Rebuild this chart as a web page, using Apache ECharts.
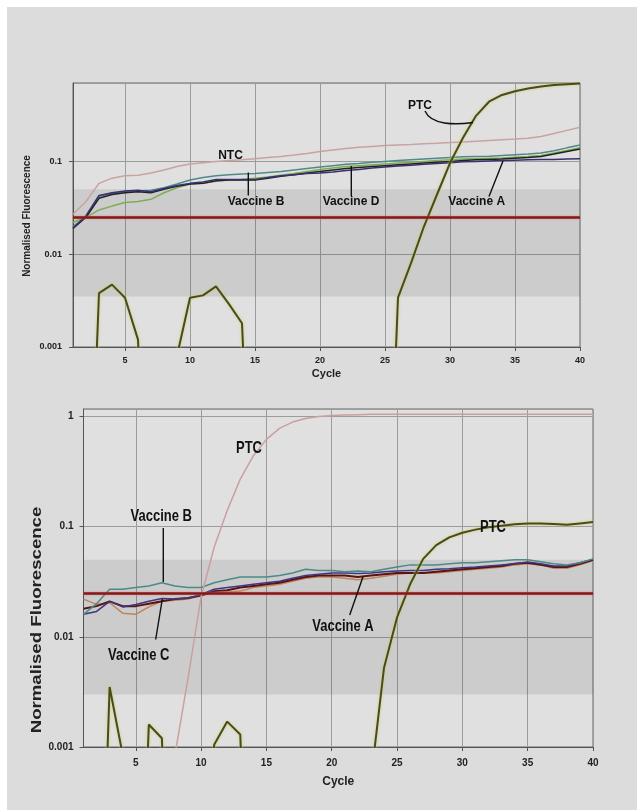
<!DOCTYPE html>
<html>
<head>
<meta charset="utf-8">
<script src="https://cdn.jsdelivr.net/npm/echarts@6/dist/echarts.min.js"></script>
<style>
html,body{margin:0;padding:0;background:#ffffff;}
#chart{width:637px;height:810px;}
</style>
</head>
<body>
<div id="chart"></div>
<script>
// ---------- data ----------
var cycles = [];
for (var c = 1; c <= 40; c++) cycles.push(c);
var xTicks = [5, 10, 15, 20, 25, 30, 35, 40];
var topYLabels = {'-3': '0.001', '-2': '0.01', '-1': '0.1'};
var botYLabels = {'-3': '0.001', '-2': '0.01', '-1': '0.1', '0': '1'};
var threshold = 0.025;
var topBand = [0.0035, 0.05];
var botBand = [0.003, 0.05];
var LOW = 1e-6; // below the visible axis range

// top panel
var topPTC = [LOW, LOW, 0.0038, 0.0047, 0.0034, 0.0012, LOW, LOW, 0.0008, 0.0034,
  0.0036, 0.0045, 0.0029, 0.0018, LOW, LOW, LOW, LOW, LOW, LOW,
  LOW, LOW, LOW, LOW, LOW, 0.0034, 0.008, 0.02, 0.044, 0.096,
  0.18, 0.31, 0.44, 0.52, 0.57, 0.61, 0.64, 0.665, 0.68, 0.69];
var topNTC = [0.027, 0.037, 0.058, 0.066, 0.07, 0.071, 0.075, 0.081, 0.088, 0.094,
  0.097, 0.1, 0.102, 0.104, 0.107, 0.11, 0.113, 0.117, 0.122, 0.128,
  0.133, 0.138, 0.142, 0.145, 0.148, 0.15, 0.152, 0.155, 0.157, 0.16,
  0.162, 0.165, 0.168, 0.171, 0.174, 0.178, 0.186, 0.2, 0.216, 0.233];
var topVB = [0.02, 0.025, 0.042, 0.045, 0.047, 0.048, 0.049, 0.052, 0.057, 0.063,
  0.067, 0.07, 0.072, 0.073, 0.074, 0.076, 0.078, 0.081, 0.084, 0.087,
  0.09, 0.093, 0.095, 0.098, 0.1, 0.102, 0.104, 0.106, 0.108, 0.11,
  0.112, 0.113, 0.114, 0.116, 0.118, 0.12, 0.123, 0.13, 0.14, 0.15];
var topVD = [0.022, 0.025, 0.03, 0.033, 0.036, 0.037, 0.039, 0.046, 0.052, 0.057,
  0.058, 0.061, 0.063, 0.064, 0.066, 0.068, 0.071, 0.074, 0.078, 0.082,
  0.085, 0.088, 0.09, 0.092, 0.094, 0.096, 0.098, 0.1, 0.102, 0.104,
  0.106, 0.107, 0.108, 0.109, 0.111, 0.113, 0.116, 0.123, 0.131, 0.14];
var topVC = [0.019, 0.025, 0.04, 0.044, 0.046, 0.047, 0.046, 0.05, 0.054, 0.057,
  0.058, 0.062, 0.063, 0.063, 0.063, 0.066, 0.069, 0.072, 0.075, 0.078,
  0.081, 0.084, 0.086, 0.088, 0.09, 0.092, 0.094, 0.096, 0.098, 0.1,
  0.102, 0.104, 0.105, 0.106, 0.108, 0.11, 0.113, 0.12, 0.128, 0.136];
var topVA = [0.019, 0.026, 0.043, 0.046, 0.048, 0.049, 0.047, 0.051, 0.055, 0.058,
  0.06, 0.064, 0.064, 0.064, 0.064, 0.067, 0.07, 0.072, 0.074, 0.075,
  0.077, 0.08, 0.082, 0.085, 0.087, 0.089, 0.091, 0.093, 0.095, 0.097,
  0.099, 0.1, 0.101, 0.102, 0.103, 0.104, 0.105, 0.105, 0.106, 0.107];

// bottom panel
var botPTC1 = [LOW, LOW, LOW, LOW, LOW, LOW, LOW, 0.00085, 0.0042, 0.023,
  0.065, 0.14, 0.27, 0.44, 0.62, 0.78, 0.89, 0.96, 1.0, 1.02,
  1.03, 1.04, 1.05, 1.05, 1.05, 1.05, 1.05, 1.05, 1.05, 1.05,
  1.05, 1.05, 1.05, 1.05, 1.05, 1.05, 1.05, 1.05, 1.05, 1.05];
var botPTC2 = [LOW, LOW, 0.0035, 0.00085, LOW, 0.0016, 0.0012, LOW, LOW, LOW,
  0.00105, 0.0017, 0.0013, LOW, LOW, LOW, LOW, LOW, LOW, LOW,
  LOW, LOW, 0.0005, 0.0052, 0.015, 0.03, 0.051, 0.068, 0.08, 0.088,
  0.094, 0.099, 0.102, 0.105, 0.107, 0.107, 0.106, 0.104, 0.107, 0.11];
var botVB = [0.016, 0.02, 0.027, 0.027, 0.028, 0.029, 0.031, 0.029, 0.028, 0.028,
  0.031, 0.033, 0.035, 0.035, 0.035, 0.036, 0.038, 0.041, 0.04, 0.04,
  0.039, 0.0395, 0.039, 0.041, 0.043, 0.045, 0.045, 0.045, 0.046, 0.047,
  0.047, 0.048, 0.049, 0.05, 0.05, 0.048, 0.046, 0.045, 0.047, 0.051];
var botVC = [0.016, 0.017, 0.021, 0.0187, 0.0197, 0.021, 0.0223, 0.022, 0.0224, 0.0242,
  0.027, 0.028, 0.029, 0.03, 0.031, 0.032, 0.034, 0.036, 0.037, 0.038,
  0.038, 0.0376, 0.038, 0.039, 0.0395, 0.04, 0.04, 0.041, 0.0415, 0.0424,
  0.043, 0.044, 0.045, 0.046, 0.0477, 0.046, 0.044, 0.0439, 0.047, 0.0505];
var botVA = [0.022, 0.0197, 0.0204, 0.0164, 0.016, 0.0187, 0.021, 0.0215, 0.022, 0.024,
  0.025, 0.0255, 0.026, 0.028, 0.029, 0.03, 0.032, 0.034, 0.035, 0.035,
  0.034, 0.033, 0.034, 0.0355, 0.037, 0.038, 0.038, 0.038, 0.039, 0.04,
  0.041, 0.042, 0.043, 0.045, 0.046, 0.045, 0.042, 0.042, 0.045, 0.049];
var botVX = [0.018, 0.019, 0.021, 0.019, 0.019, 0.02, 0.021, 0.022, 0.0225, 0.0237,
  0.026, 0.0265, 0.028, 0.029, 0.03, 0.031, 0.033, 0.035, 0.036, 0.036,
  0.036, 0.035, 0.036, 0.037, 0.038, 0.038, 0.038, 0.039, 0.04, 0.041,
  0.042, 0.043, 0.044, 0.046, 0.047, 0.045, 0.043, 0.043, 0.046, 0.05];

// ---------- chart ----------
function pairs(arr) { return cycles.map(function (c, i) { return [c, arr[i]]; }); }
var FONT = 'Liberation Sans, Arial, sans-serif';

function logLabel(map) {
  return function (v) {
    var e = Math.log10(v);
    var r = Math.round(e);
    if (Math.abs(e - r) < 1e-6 && map[String(r)] !== undefined) return map[String(r)];
    return '';
  };
}

function xAxisCfg(idx, fs, nameFs, nameGap, margin) {
  return {
    type: 'value', gridIndex: idx, min: 1, max: 40,
    name: 'Cycle', nameLocation: 'middle', nameGap: nameGap,
    nameTextStyle: {fontFamily: FONT, fontSize: nameFs, fontWeight: 'bold', color: '#222'},
    axisLine: {show: true, lineStyle: {color: '#555', width: 1}},
    axisTick: {show: true, customValues: xTicks, length: 4, lineStyle: {color: '#555'}},
    axisLabel: {customValues: xTicks, fontFamily: FONT, fontSize: fs, fontWeight: 'bold', color: '#222', margin: margin},
    splitLine: {show: true, lineStyle: {color: '#9c9c9c', width: 1}}
  };
}
function yAxisCfg(idx, max, map, fs, margin) {
  return {
    type: 'log', logBase: 10, gridIndex: idx, min: 0.001, max: max,
    axisLine: {show: true, lineStyle: {color: '#555', width: 1}},
    axisTick: {show: true, length: 4, lineStyle: {color: '#555'}},
    axisLabel: {formatter: logLabel(map), fontFamily: FONT, fontSize: fs, fontWeight: 'bold', color: '#222', margin: margin, showMaxLabel: false},
    splitLine: {show: true, lineStyle: {color: '#9c9c9c', width: 1}}
  };
}
function lineSeries(name, xi, arr, color, width, halo) {
  var s = {
    name: name, type: 'line', xAxisIndex: xi, yAxisIndex: xi,
    data: pairs(arr), showSymbol: false, symbol: 'none', clip: true, silent: true,
    lineStyle: {color: color, width: width},
    z: 3
  };
  if (halo) { s.lineStyle.shadowColor = halo; s.lineStyle.shadowBlur = 3; }
  return s;
}
function refSeries(xi, band) {
  return {
    type: 'line', xAxisIndex: xi, yAxisIndex: xi, data: [], silent: true, z: 2,
    markArea: {silent: true, itemStyle: {color: 'rgba(0,0,0,0.085)'},
      data: [[{yAxis: band[0]}, {yAxis: band[1]}]]},
    markLine: {silent: true, symbol: 'none', precision: 6, label: {show: false},
      lineStyle: {color: '#861818', width: 2.5, type: 'solid', shadowColor: 'rgba(220,120,120,0.9)', shadowBlur: 2},
      data: [{yAxis: threshold}]}
  };
}

var chart = echarts.init(document.getElementById('chart'), null, {renderer: 'canvas'});
var txt = function (t, x, y, fs, sy) {
  return {type: 'text', x: x, y: y, z: 100, scaleY: sy || 1,
    style: {text: t, fill: '#111', font: 'bold ' + fs + 'px ' + FONT, align: 'center', verticalAlign: 'middle'}};
};
var ln = function (x1, y1, x2, y2) {
  return {type: 'line', z: 100, shape: {x1: x1, y1: y1, x2: x2, y2: y2}, style: {stroke: '#111', lineWidth: 1.4}};
};

var option = {
  backgroundColor: '#dcdcdc',
  animation: false,
  textStyle: {fontFamily: FONT},
  grid: [
    {left: 73, top: 83, width: 507, height: 264, show: true, backgroundColor: '#e0e0e0', borderColor: '#666', borderWidth: 1, outerBoundsMode: 'none'},
    {left: 83.5, top: 409, width: 509.5, height: 338, show: true, backgroundColor: '#e0e0e0', borderColor: '#666', borderWidth: 1, outerBoundsMode: 'none'}
  ],
  xAxis: [xAxisCfg(0, 9, 11, 21, 9), xAxisCfg(1, 10, 12, 29, 11)],
  yAxis: [yAxisCfg(0, 0.7, topYLabels, 9, 11), yAxisCfg(1, 1.17, botYLabels, 10, 10)],
  series: [
    refSeries(0, topBand),
    lineSeries('NTC', 0, topNTC, '#c9a2a2', 1.5),
    lineSeries('Vaccine D', 0, topVD, '#7fae50', 1.5),
    lineSeries('Vaccine B', 0, topVB, '#4d8a88', 1.5),
    lineSeries('Vaccine C', 0, topVC, '#222222', 1.5),
    lineSeries('Vaccine A', 0, topVA, '#3b2f72', 1.5),
    lineSeries('PTC', 0, topPTC, '#4a4a1e', 2, 'rgba(200,210,90,0.9)'),
    refSeries(1, botBand),
    lineSeries('Vaccine A', 1, botVA, '#c0835a', 1.5),
    lineSeries('Vaccine X', 1, botVX, '#5a1212', 2),
    lineSeries('Vaccine C', 1, botVC, '#3f3583', 1.5),
    lineSeries('Vaccine B', 1, botVB, '#4b8a86', 1.5),
    lineSeries('PTC', 1, botPTC1, '#c9a0a0', 1.5),
    lineSeries('PTC', 1, botPTC2, '#4a4a1e', 2, 'rgba(200,210,90,0.9)')
  ],
  graphic: [
    // white page edges
    {type: 'rect', z: 200, shape: {x: 0, y: 0, width: 7, height: 810}, style: {fill: '#ffffff'}},
    {type: 'rect', z: 200, shape: {x: 0, y: 0, width: 637, height: 7}, style: {fill: '#ffffff'}},
    // y axis titles
    {type: 'text', x: 27, y: 216, rotation: Math.PI / 2, z: 100,
      style: {text: 'Normalised Fluorescence', fill: '#222', font: 'bold 10px ' + FONT, align: 'center', verticalAlign: 'middle'}},
    {type: 'text', x: 37, y: 620, rotation: Math.PI / 2, scaleX: 1.33, z: 100,
      style: {text: 'Normalised Fluorescence', fill: '#222', font: 'bold 14px ' + FONT, align: 'center', verticalAlign: 'middle'}},
    // top annotations
    txt('NTC', 230.5, 156, 12),
    txt('Vaccine B', 256, 202, 12),
    ln(248.3, 172.5, 248.3, 195.5),
    txt('Vaccine D', 351, 202, 12),
    ln(351.3, 166, 351.3, 196),
    txt('Vaccine A', 476.7, 202, 12),
    ln(503, 161, 489, 196.5),
    txt('PTC', 420, 106, 12),
    {type: 'bezierCurve', z: 100, shape: {x1: 425, y1: 111, cpx1: 431, cpy1: 125, cpx2: 455, cpy2: 125, x2: 473, y2: 122.5},
      style: {stroke: '#111', lineWidth: 1.4, fill: null}},
    // bottom annotations
    txt('PTC', 249, 448, 13, 1.3),
    txt('Vaccine B', 161.3, 516.7, 13, 1.3),
    ln(163.3, 528, 163.3, 582),
    txt('Vaccine C', 138.7, 655, 13, 1.3),
    ln(162.3, 599, 155.7, 639.5),
    txt('Vaccine A', 343, 626.7, 13, 1.3),
    ln(363, 576.7, 349.7, 615),
    txt('PTC', 493, 527.7, 13, 1.3)
  ]
};
chart.setOption(option);
</script>
</body>
</html>
